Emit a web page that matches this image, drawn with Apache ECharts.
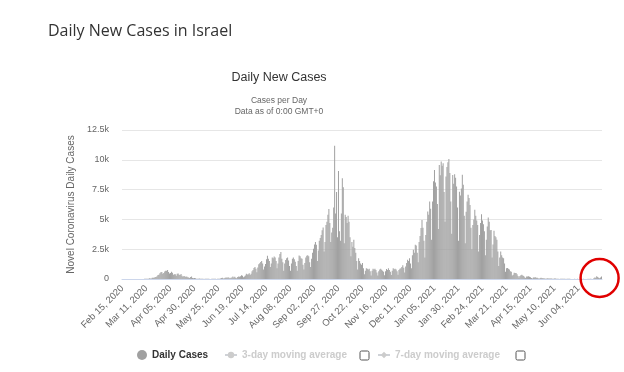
<!DOCTYPE html>
<html><head><meta charset="utf-8">
<script src="https://cdn.jsdelivr.net/npm/echarts@6/dist/echarts.min.js"></script>
<style>html,body{margin:0;padding:0;background:#fff}#c{width:624px;height:372px}</style>
</head><body><div id="c"></div>
<script>
// Daily new cases, Israel, Feb 15 2020 - Jun 28 2021
const feb2020 = [0,0,0,0,0,0,1,0,0,0,0,1,1,2,0];
const mar2020 = [3,2,2,3,2,4,2, 9,11,19,18,22,12,63, 51,37,105,97,104,177,178, 233,343,357,477,573,578,441, 513,630,700];
const apr2020 = [700,765,580,470,500,600,520, 350,400,390,280,430,470,350, 330,420,280,180,260,230,170, 200,150,120,80,160,200,90, 70,80];
const may2020 = [60,30,20,30,40,30,30, 20,15,10,20,15,25,20, 15,10,10,20,15,30,20, 20,10,15,20,30,40,80, 110,40,70];
const jun2020 = [100,120,110,140,110,70,110, 130,200,130,190,100,70,170, 200,180,240,310,270,150,200, 300,430,370,390,480,330,440, 650,750];
const jul2020 = [920,1000,870,570,970,1230,1320, 1420,1500,1300,800,1050,1250,1650, 1950,1700,1500,1000,1300,1800,1750, 1890,1800,1500,900,1300,1800,2100, 2260,1700,1400];
const aug2020 = [700,1300,1600,1750,1800,1550,1100, 700,1300,1700,1800,1650,1450,1100, 700,1500,1970,1900,1750,1700,1200, 800,1350,1800,1950,2000,1900,1400, 1000,1700,2200];
const sep2020 = [2540,2900,3100,2870,1500,2400,3200, 3450,3700,4100,4320,2300,3100,4540, 4800,5400,5880,4700,3100,3900,4300, 6000,11180,5500,7300,3500,9060,4000, 3200,5500];
const oct2020 = [8450,7700,3000,5380,5200,4700,5300, 4800,3500,1900,3100,2700,3290,2600, 2200,1500,800,1750,1500,1300,1200, 1340,900,400,700,900,850,800, 860,650,300];
const nov2020 = [700,850,800,860,750,550,300, 650,800,850,780,700,600,320, 650,840,760,900,750,600,330, 700,900,820,860,800,650,350, 750,870];
const dec2020 = [900,1000,1150,950,550,1050,1350, 1620,1500,1750,1300,900,2000,2450, 2200,2870,2800,2200,1400,3100,3600, 4270,4960,4300,3200,1800,3700,4800, 5660,5400,6500];
const jan2021 = [5900,3300,6500,8200,9150,8100,7750, 6300,4200,9570,8700,9850,9500,9710, 7300,4800,8590,9400,9800,10070,8900, 6500,3800,8730,8000,8790,8500,7750, 6000,3200,7330];
const feb2021 = [7000,7600,8750,7900,5300,3000,5650, 6500,7060,6800,6200,4300,2500,4540, 5000,5800,5300,4900,4540,2300,3700, 4700,5440,4900,4600,4000,2000,3300];
const mar2021 = [4400,5160,4800,4100,4120,1800,2900, 4040,3600,3500,3290,2300,1100,1800, 2310,2000,1800,1750,1300,600,900, 920,850,800,640,600,300,350, 520,500,510];
const apr2021 = [400,250,120,250,320,350,300, 260,150,80,200,220,240,180, 150,90,50,120,130,150,110, 100,60,30,80,100,90,70, 60,40];
const may2021 = [20,40,60,50,45,40,35, 15,30,40,35,30,25,15, 10,20,25,30,20,20,15, 8,15,20,15,12,10,8, 5,10,15];
const jun2021 = [10,8,12,10,5,3,8, 10,12,8,6,4,10,12, 8,15,20,10,5,60,125, 110,227,170,100,60,130,220];

const dailyCases = [].concat(feb2020, mar2020, apr2020, may2020, jun2020, jul2020, aug2020,
  sep2020, oct2020, nov2020, dec2020, jan2021, feb2021, mar2021, apr2021, may2021, jun2021);

const monthNames = ['Jan','Feb','Mar','Apr','May','Jun','Jul','Aug','Sep','Oct','Nov','Dec'];
const firstDay = [2020, 1, 15];
const categories = dailyCases.map(function (v, i) {
  const d = new Date(Date.UTC(firstDay[0], firstDay[1], firstDay[2] + i));
  const dd = String(d.getUTCDate()).padStart(2, '0');
  return monthNames[d.getUTCMonth()] + ' ' + dd + ', ' + d.getUTCFullYear();
});
const yTicks = [0, 2500, 5000, 7500, 10000, 12500];

const FF = '"Liberation Sans", Arial, sans-serif';
const chart = echarts.init(document.getElementById('c'), null, {renderer: 'canvas'});
const selected = {'Daily Cases': true, '3-day moving average': false, '7-day moving average': false};
const legendBase = {top: 350, padding: 0, selectedMode: false, selected: selected, inactiveColor: '#cccccc',
  textStyle: {fontFamily: FF, fontSize: 10, fontWeight: 'bold', color: '#333333'}};

chart.setOption({
  animation: false,
  grid: {left: 122, right: 22, top: 130, bottom: 93, containLabel: false},
  xAxis: {
    type: 'category', data: categories, boundaryGap: true,
    axisLine: {lineStyle: {color: '#ccd6eb'}},
    axisTick: {show: false},
    axisLabel: {interval: 24, rotate: 45, fontSize: 9.5, color: '#666666', fontFamily: FF, margin: 8}
  },
  yAxis: {
    type: 'value', min: yTicks[0], max: yTicks[yTicks.length - 1], interval: yTicks[1] - yTicks[0],
    name: 'Novel Coronavirus Daily Cases', nameLocation: 'middle', nameGap: 41, nameRotate: 90,
    nameTextStyle: {fontFamily: FF, fontSize: 10, color: '#666666'},
    axisLine: {show: false}, axisTick: {show: false},
    splitLine: {lineStyle: {color: '#e6e6e6'}},
    axisLabel: {fontFamily: FF, fontSize: 9, color: '#666666', margin: 13,
      formatter: function (v) { return v === 0 ? '0' : (v / 1000) + 'k'; }}
  },
  legend: [
    Object.assign({}, legendBase, {left: 137, data: [{name: 'Daily Cases', icon: 'circle'}], itemWidth: 10, itemHeight: 10}),
    Object.assign({}, legendBase, {left: 224, data: ['3-day moving average'], itemWidth: 12, itemHeight: 8}),
    Object.assign({}, legendBase, {left: 377, data: ['7-day moving average'], itemWidth: 12, itemHeight: 8})
  ],
  series: [
    {name: 'Daily Cases', type: 'bar', data: dailyCases, barCategoryGap: '20%',
      itemStyle: {color: '#a0a0a0'}, emphasis: {disabled: true}},
    {name: '3-day moving average', type: 'line', data: [], symbol: 'circle', itemStyle: {color: '#999999'}},
    {name: '7-day moving average', type: 'line', data: [], symbol: 'diamond', itemStyle: {color: '#999999'}}
  ],
  graphic: [
    {type: 'text', id: 'pageTitle', x: 48, y: 31, style: {text: 'Daily New Cases in Israel',
      font: 'normal 16px "Open Sans", sans-serif', fill: '#333333', textAlign: 'left', textVerticalAlign: 'middle'}},
    {type: 'text', id: 'chartTitle', x: 279, y: 78, style: {text: 'Daily New Cases',
      font: 'normal 12.5px ' + FF, fill: '#333333', textAlign: 'center', textVerticalAlign: 'middle'}},
    {type: 'text', id: 'sub1', x: 279, y: 100.5, style: {text: 'Cases per Day',
      font: 'normal 8.5px ' + FF, fill: '#666666', textAlign: 'center', textVerticalAlign: 'middle'}},
    {type: 'text', id: 'sub2', x: 279, y: 111.5, style: {text: 'Data as of 0:00 GMT+0',
      font: 'normal 8.5px ' + FF, fill: '#666666', textAlign: 'center', textVerticalAlign: 'middle'}},
    {type: 'rect', id: 'cb1', shape: {x: 360, y: 351, width: 9, height: 9, r: 1.5},
      style: {fill: '#ffffff', stroke: '#555555', lineWidth: 1}},
    {type: 'rect', id: 'cb2', shape: {x: 516, y: 351, width: 9, height: 9, r: 1.5},
      style: {fill: '#ffffff', stroke: '#555555', lineWidth: 1}}
  ]
});

// red annotation circle around the latest days
const p = chart.convertToPixel({xAxisIndex: 0, yAxisIndex: 0}, [categories[categories.length - 3], 0]);
chart.setOption({graphic: [{type: 'circle', id: 'ring', shape: {cx: p[0], cy: p[1] - 1, r: 19},
  style: {fill: 'none', stroke: '#e00000', lineWidth: 2.5}, z: 100}]});
</script>
</body></html>
